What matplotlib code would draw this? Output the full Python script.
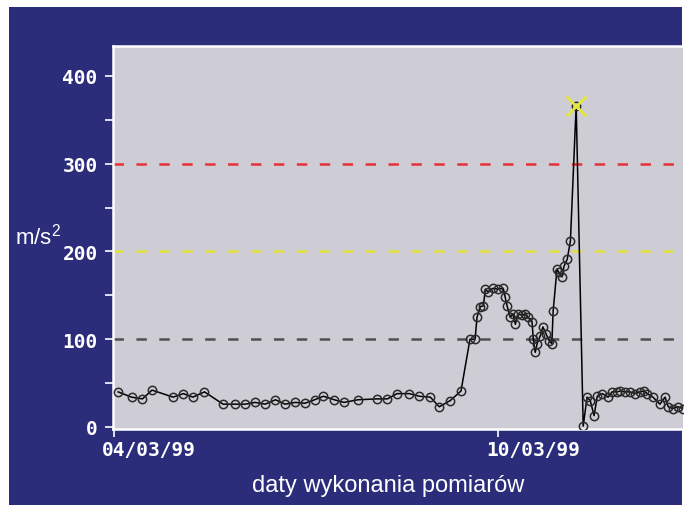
import matplotlib
matplotlib.use("Agg")
import matplotlib.pyplot as plt
import matplotlib.transforms as mtransforms
from matplotlib.patches import Rectangle
from matplotlib.ticker import MultipleLocator
from matplotlib.font_manager import FontProperties

plt.rcParams['lines.scale_dashes'] = False

# measurement time in days since 04/03/99
days = [0.06, 0.27, 0.44, 0.59, 0.92, 1.08, 1.23, 1.41, 1.70, 1.88, 2.05, 2.20, 2.36, 2.52,
        2.67, 2.83, 2.98, 3.13, 3.27, 3.44, 3.59, 3.81, 4.11, 4.27, 4.42, 4.61, 4.77, 4.94,
        5.08, 5.25, 5.42, 5.56, 5.64, 5.67, 5.72, 5.77, 5.80, 5.84, 5.92, 6.00, 6.08, 6.11,
        6.14, 6.19, 6.23, 6.27, 6.31, 6.38, 6.42, 6.47, 6.53, 6.55, 6.58, 6.61, 6.66, 6.70,
        6.75, 6.80, 6.84, 6.86, 6.92, 6.95, 7.00, 7.03, 7.08, 7.13, 7.22, 7.33, 7.39, 7.44,
        7.50, 7.55, 7.63, 7.72, 7.78, 7.86, 7.91, 7.98, 8.06, 8.14, 8.22, 8.28, 8.33, 8.42,
        8.53, 8.61, 8.66, 8.73, 8.81, 8.89]
accel = [40, 34, 32, 42, 34, 38, 34, 40, 26, 26, 26, 28, 26, 31,
         26, 28, 27, 31, 35, 31, 28, 31, 32, 32, 38, 38, 35, 34,
         23, 30, 41, 100, 100, 125, 137, 138, 157, 154, 158, 157, 158, 148,
         138, 125, 129, 117, 129, 127, 129, 125, 120, 100, 85, 95, 104, 114,
         106, 98, 95, 132, 180, 176, 171, 183, 191, 212, 366, 1, 34, 30,
         13, 35, 38, 34, 40, 40, 41, 40, 40, 38, 40, 41, 38, 34,
         26, 34, 23, 21, 23, 21]
peak_day = 7.22
peak_val = 366
limits = [100, 200, 300]
limit_colors = ['#505050', '#e2e23a', '#e8303a']
xtick_pos = [0, 6]
xtick_labels = ['04/03/99', '10/03/99']

W, H = 688, 506
fig = plt.figure(figsize=(W / 100, H / 100), dpi=100, facecolor='white')
fig.patches.append(Rectangle((9 / W, 0), (682 - 9) / W, 1 - 8 / H, transform=fig.transFigure,
                             facecolor='#2b2d7b', edgecolor='none', zorder=-10))

ax = fig.add_axes([113 / W, 1 - 430 / H, (683 - 113) / W, (430 - 47) / H])
ax.set_facecolor('#cecdd5')

for lv, c in zip(limits, limit_colors):
    ln = ax.axhline(lv, color=c, lw=1.8, zorder=1)
    ln.set_dashes((7.5, 9.0))

ax.plot(days, accel, color='black', lw=1.1, marker='o', markersize=6,
        markerfacecolor='none', markeredgecolor='#2a2a2a', markeredgewidth=1.1, zorder=3)
ax.plot([peak_day], [peak_val], marker='x', color='#e4e640', markersize=14, mew=2.0, zorder=4)

ax.set_xlim(-0.02, 8.89)
ax.set_ylim(-2.3, 434)

ax.yaxis.set_major_locator(MultipleLocator(100))
ax.yaxis.set_minor_locator(MultipleLocator(50))
ax.set_xticks(xtick_pos)
ax.set_xticklabels([])

mono = FontProperties(family='DejaVu Sans Mono', weight='bold', size=14)
for lab in ax.get_yticklabels():
    lab.set_fontproperties(mono)
    lab.set_color('white')

shift = mtransforms.ScaledTranslation(-12 / 100, -11 / 100, fig.dpi_scale_trans)
for xp, txt in zip(xtick_pos, xtick_labels):
    ax.text(xp, 0, txt, transform=ax.get_xaxis_transform() + shift, ha='left', va='top',
            color='white', fontproperties=mono, clip_on=False)

ax.tick_params(axis='both', which='both', colors='white', direction='out', length=6, width=1.2)
ax.tick_params(axis='y', pad=5)

for s in ['left', 'bottom', 'top']:
    ax.spines[s].set_color('white')
    ax.spines[s].set_linewidth(1.8)
ax.spines['right'].set_visible(False)

fig.text(38 / W, 1 - 237 / H, 'm/s$^\\mathregular{2}$', color='white', family='Liberation Sans',
         fontsize=16, ha='center', va='center')
fig.text(388 / W, 1 - 486 / H, 'daty wykonania pomiarów', color='white', family='Liberation Sans',
         fontsize=17, ha='center', va='center')

fig.savefig('out.png', dpi=100, facecolor='white')
